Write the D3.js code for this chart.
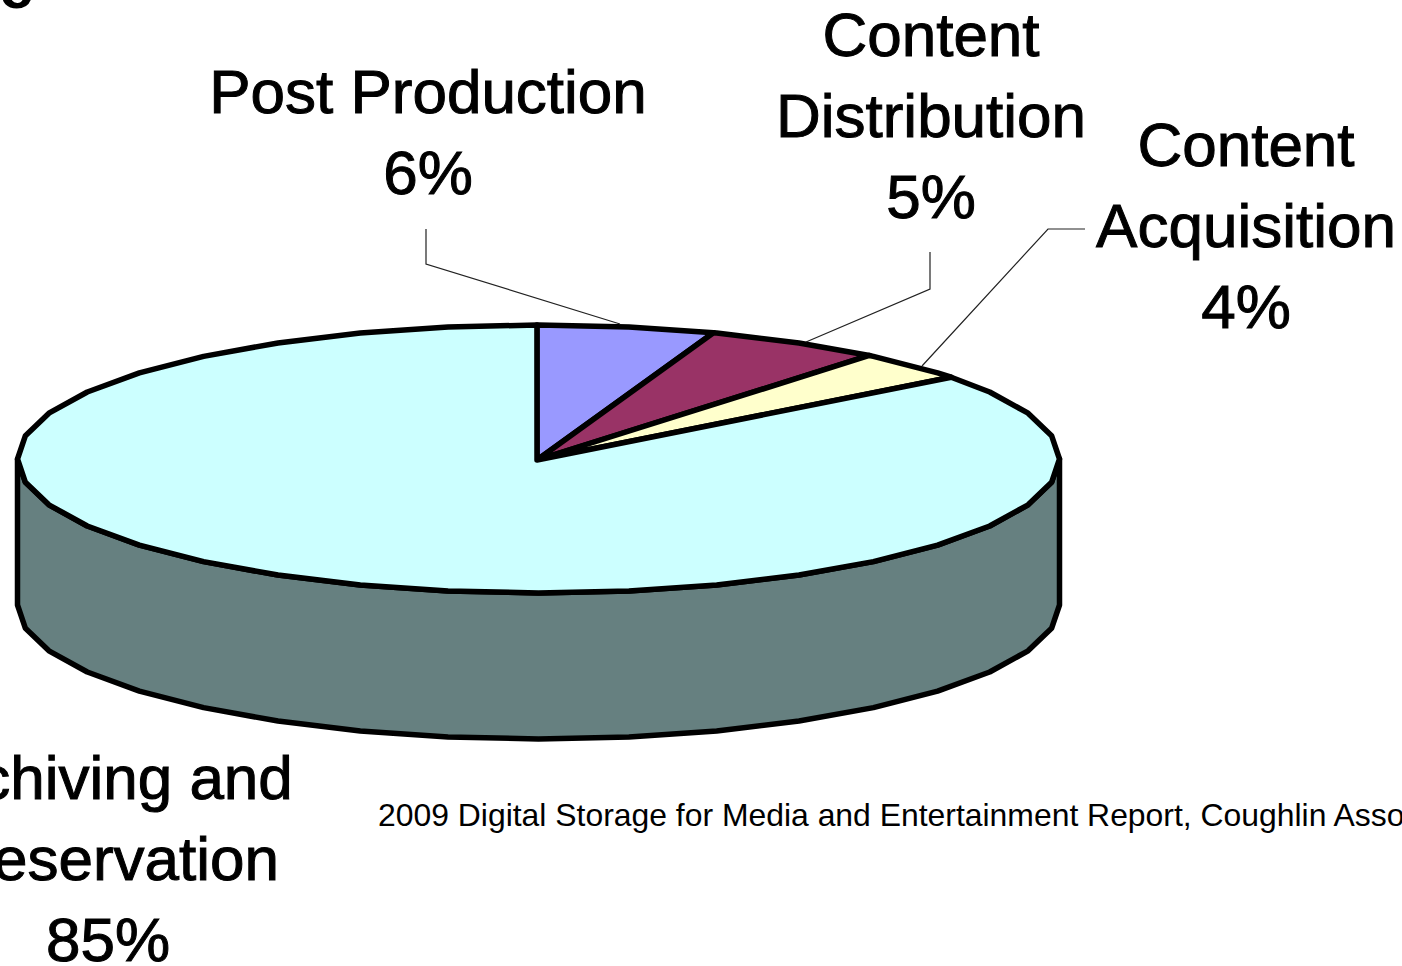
<!DOCTYPE html>
<html><head><meta charset="utf-8">
<script src="https://cdn.jsdelivr.net/npm/d3@7/dist/d3.min.js"></script>
<style>html,body{margin:0;padding:0;background:#fff;overflow:hidden}svg{display:block}text{font-family:"Liberation Sans",Arial,sans-serif;fill:#000}</style>
</head><body><svg id="c" width="1402" height="966"></svg>
<script>
const categories = ["Post Production","Content Distribution","Content Acquisition","Archiving and Preservation"];
const seriesValues = [5.5,5.5,3.6,85.4];
const percentLabels = ["6%","5%","4%","85%"];
const sliceColors = ["#9999FF","#993366","#FFFFCC","#CCFFFF"];
const sideColor = "#668080";
const labelLines = [["Post Production"],["Content","Distribution"],["Content","Acquisition"],["Archiving and","Preservation"]];
const labelAnchors = [[428,113],[931,56],[1246,166],[105,799]];
const leaderLines = [[[426,229],[426,264],[620,324]],[[930,252],[930,289],[806,342]],[[1085,229],[1048,229],[922,366]]];

const svg = d3.select("#c");
const cx=538.5, cy=459, rx=521, ry=134, depth=146;
const X=d3.scaleLinear().domain([-1,1]).range([cx-rx,cx+rx]);
const Y=d3.scaleLinear().domain([-1,1]).range([cy+ry,cy-ry]);
const pie=d3.pie().sort(null).value(d=>d).startAngle(-0.003).endAngle(2*Math.PI-0.003);
const arcs=pie(seriesValues);
const STEP=Math.PI/18;
const pt=a=>[X(Math.sin(a)),Y(Math.cos(a))];
function arcPts(a0,a1){
  const out=[pt(a0)];
  const first=Math.ceil(a0/STEP+1e-6);
  for(let i=first;i*STEP<a1-1e-6;i++) out.push(pt(i*STEP));
  out.push(pt(a1));
  return out;
}
const line=d3.line();
const hub=[537,460];

// side wall
const front=arcPts(Math.PI/2,3*Math.PI/2);
const wall=front.concat(front.slice().reverse().map(p=>[p[0],p[1]+depth]));
svg.append("path").attr("d",line(wall)+"Z").attr("fill",sideColor).attr("stroke","#000").attr("stroke-width",5.5).attr("stroke-linejoin","round");

// top slices
svg.selectAll("path.s").data(arcs).join("path").attr("class","s")
  .attr("d",d=>line([hub,...arcPts(d.startAngle,d.endAngle)])+"Z")
  .attr("fill",(d,i)=>sliceColors[i]).attr("stroke","#000").attr("stroke-width",5.5).attr("stroke-linejoin","round");

// leaders
svg.selectAll("path.l").data(leaderLines).join("path").attr("class","l")
  .attr("d",d=>line(d)).attr("fill","none").attr("stroke","#222").attr("stroke-width",1.2);

// labels
const FS=62, LH=81;
labelLines.forEach((ls,i)=>{
  const [x,y]=labelAnchors[i];
  ls.concat(percentLabels[i]).forEach((t,j)=>{
    svg.append("text").attr("x",j===ls.length?x+(i===3?3:0):x).attr("y",y+j*LH).attr("text-anchor","middle")
      .attr("font-size",FS).attr("stroke","#000").attr("stroke-width",1).text(t);
  });
});
svg.append("text").attr("x",378).attr("y",826).attr("font-size",31.9)
  .text("2009 Digital Storage for Media and Entertainment Report, Coughlin Associates");
svg.append("text").attr("x",-1).attr("y",8).attr("font-size",62).attr("font-weight","bold").text("e");
</script></body></html>
